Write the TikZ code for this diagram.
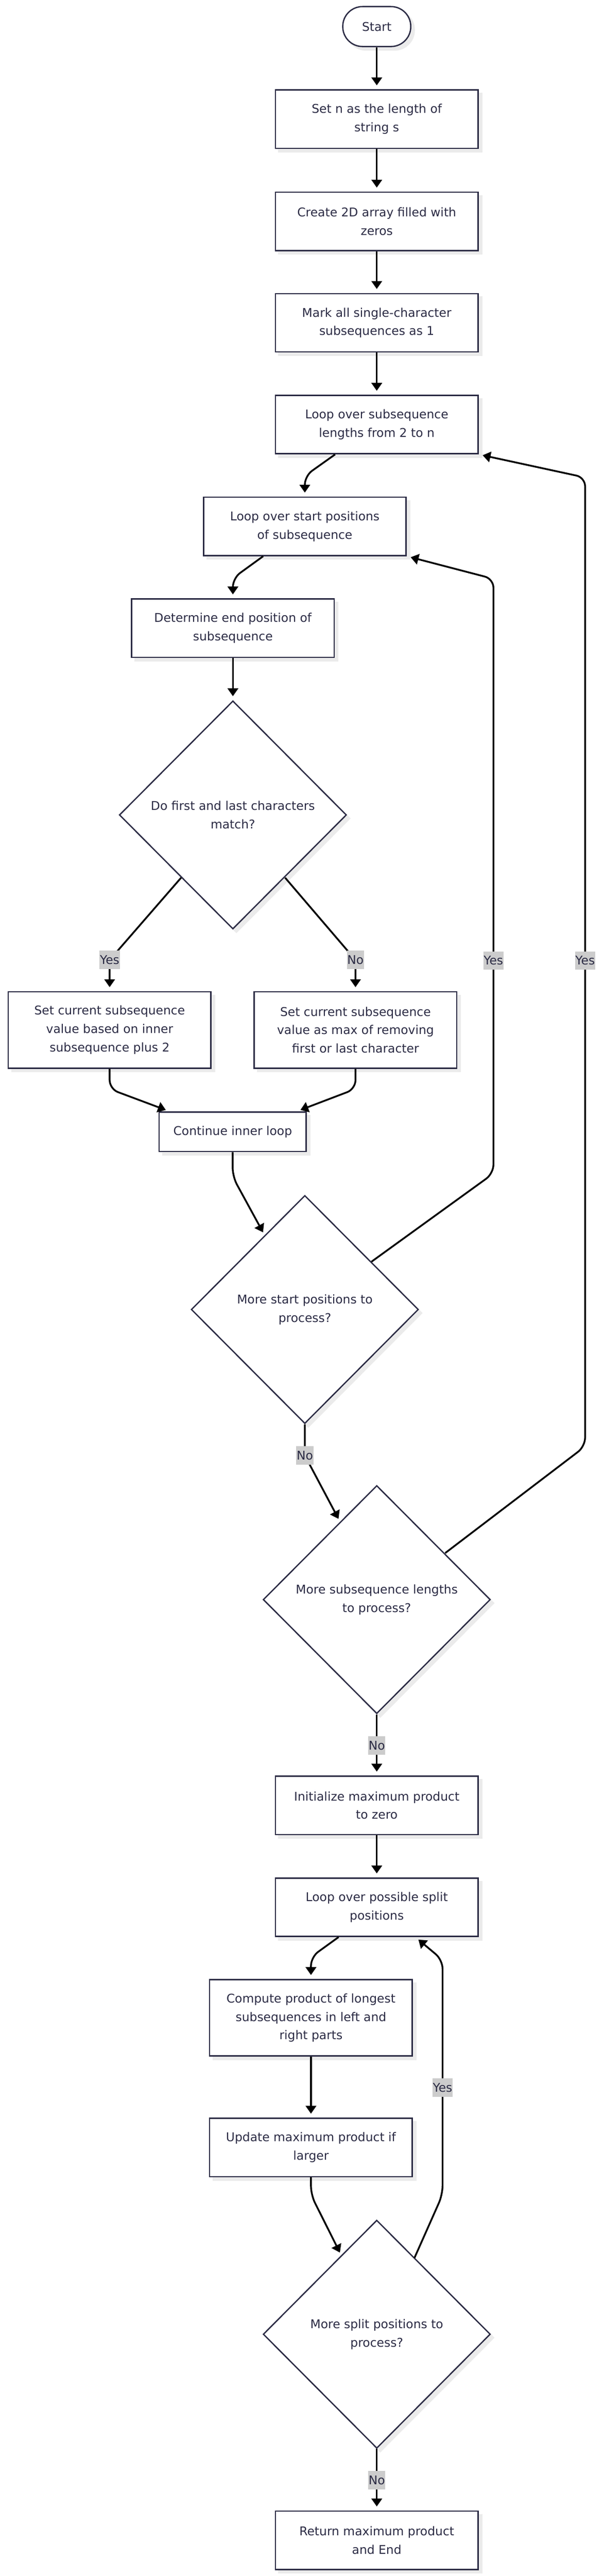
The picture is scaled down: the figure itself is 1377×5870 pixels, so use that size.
\documentclass[tikz,border=0pt]{standalone}
\usepackage{fontspec}
\setmainfont{DejaVu Sans}
\usetikzlibrary{shapes.geometric,arrows.meta,shadows,calc}
\definecolor{ink}{HTML}{2B2B44}
\definecolor{lblbg}{HTML}{CCCCCC}
\definecolor{shade}{HTML}{EBEBEB}
\begin{document}
\begin{tikzpicture}[x=1pt,y=-1pt,
  every node/.style={font=\fontsize{27.5}{42}\selectfont, text=ink},
  shd/.style={drop shadow={shadow xshift=8pt, shadow yshift=-8pt, fill=shade, draw=shade, opacity=1}},
  box/.style={rectangle, draw=ink, line width=3pt, fill=white, inner sep=0pt, align=center,
    minimum width=462pt, minimum height=133pt, shd},
  stadium/.style={rectangle, rounded corners=45pt, draw=ink, line width=3pt, fill=white, inner sep=0pt,
    minimum width=155pt, minimum height=91pt, shd},
  dia/.style={diamond, draw=ink, line width=3pt, fill=white, inner sep=0pt, align=center,
    minimum width=518pt, minimum height=520pt, shd},
  lbl/.style={rectangle, sharp corners, fill=lblbg, draw=none, inner sep=0pt, inner xsep=1pt, minimum height=42pt, text=ink},
  flow/.style={draw=black, line width=4pt, -{Triangle[length=18pt,width=24pt]}, shorten >=9pt, rounded corners=20pt}
]
\fill[white] (0,0) rectangle (1377,5870);
\useasboundingbox (0,0) rectangle (1377,5870);

% nodes
\node[stadium] (start) at (859,60.5) {Start};
\node[box] (b1) at (859,271.5) {Set n as the length of\\string s};
\node[box] (b2) at (859,504.5) {Create 2D array filled with\\zeros};
\node[box] (b3) at (859,735.5) {Mark all single-character\\subsequences as 1};
\node[box] (b4) at (859,967.5) {Loop over subsequence\\lengths from 2 to n};
\node[box] (b5) at (695,1199.5) {Loop over start positions\\of subsequence};
\node[box] (b6) at (531,1431.5) {Determine end position of\\subsequence};
\node[dia] (d1) at (531,1857) {Do first and last characters\\match?};
\node[box, minimum height=174pt] (b7) at (250,2347) {Set current subsequence\\value based on inner\\subsequence plus 2};
\node[box, minimum height=174pt] (b8) at (810.5,2347) {Set current subsequence\\value as max of removing\\first or last character};
\node[box, minimum width=335pt, minimum height=90pt] (b9) at (530.5,2579) {Continue inner loop};
\node[dia] (d2) at (695,2984) {More start positions to\\process?};
\node[dia] (d3) at (859,3645) {More subsequence lengths\\to process?};
\node[box] (b10) at (859,4114) {Initialize maximum product\\to zero};
\node[box] (b11) at (859,4346) {Loop over possible split\\positions};
\node[box, minimum height=174pt] (b12) at (709,4598) {Compute product of longest\\subsequences in left and\\right parts};
\node[box] (b13) at (709,4893.5) {Update maximum product if\\larger};
\node[dia] (d4) at (859,5319) {More split positions to\\process?};
\node[box] (b14) at (859,5788.5) {Return maximum product\\and End};

% edges
\draw[flow] (start) -- (b1);
\draw[flow] (b1) -- (b2);
\draw[flow] (b2) -- (b3);
\draw[flow] (b3) -- (b4);
\draw[flow] ($(b4.south)+(-95,0)$) -- ($(b5.north)+(0,-47)$) -- (b5.north);
\draw[flow] ($(b5.south)+(-95,0)$) -- ($(b6.north)+(0,-46)$) -- (b6.north);
\draw[flow] (b6) -- (d1);
\draw[flow] ($(d1.center)+(-118,143)$) -- ($(b7.north)+(0,-71)$) node[lbl]{Yes} -- (b7.north);
\draw[flow] ($(d1.center)+(119,143)$) -- ($(b8.north)+(0,-71)$) node[lbl]{No} -- (b8.north);
\draw[flow] (b7.south) -- ($(b7.south)+(0,46)$) -- ($(b9.north)+(-144,0)$);
\draw[flow] (b8.south) -- ($(b8.south)+(0,46)$) -- ($(b9.north)+(146,0)$);
\draw[flow] (b9.south) -- ($(b9.south)+(0,56)$) -- ($(d2.center)+(-91,-168)$);
\draw[flow] ($(d2.center)+(152,-109)$) -- (1125,2674) -- (1125,2189) node[lbl]{Yes} -- (1125,1319) -- (b5.south east);
\draw[flow] (d2.south) -- ($(d2.south)+(0,71)$) node[lbl]{No} -- ($(d3.center)+(-83,-176)$);
\draw[flow] ($(d3.center)+(156,-106)$) -- (1334,3296) -- (1334,2189) node[lbl]{Yes} -- (1334,1088) -- (b4.south east);
\draw[flow] (d3.south) -- ($(d3.south)+(0,71)$) node[lbl]{No} -- (b10.north);
\draw[flow] (b10) -- (b11);
\draw[flow] ($(b11.south)+(-87,0)$) -- ($(b12.north)+(0,-50)$) -- (b12.north);
\draw[flow] (b12) -- (b13);
\draw[flow] (b13.south) -- ($(b13.south)+(0,40)$) -- ($(d4.center)+(-80,-178)$);
\draw[flow] ($(d4.center)+(86,-174)$) -- (1009,5001) -- (1009,4757) node[lbl]{Yes} -- (1009,4466) -- ($(b11.south)+(88,0)$);
\draw[flow] (d4.south) -- ($(d4.south)+(0,71)$) node[lbl]{No} -- (b14.north);
\end{tikzpicture}
\end{document}
